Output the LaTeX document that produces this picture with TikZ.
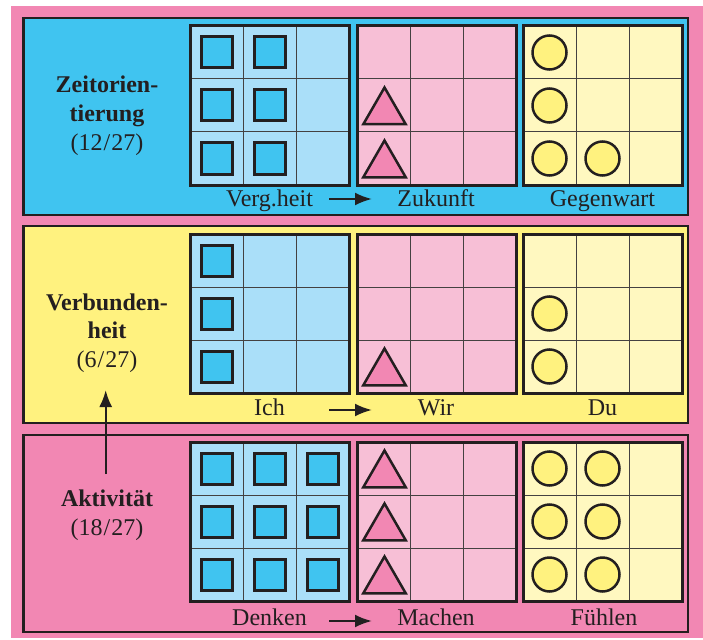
\documentclass[tikz,border=0pt]{standalone}
\usepackage{fontspec}
\setmainfont{Liberation Serif}
\usetikzlibrary{arrows.meta,shapes.geometric}

\definecolor{rosa}{HTML}{F287B3}
\definecolor{cyanblau}{HTML}{40C4F0}
\definecolor{hellblau}{HTML}{AADFF9}
\definecolor{hellrosa}{HTML}{F7BFD6}
\definecolor{gelb}{HTML}{FFF27F}
\definecolor{hellgelb}{HTML}{FFF8C0}
\definecolor{linie}{HTML}{231F20}

\tikzset{
  panel/.style={draw=linie, line width=2.5pt},
  feld/.style={draw=linie, line width=3pt, minimum size=159pt, inner sep=0pt, outer sep=0pt},
  gitter/.style={draw=linie!85, line width=1pt},
  quad/.style={draw=linie, fill=cyanblau, line width=3pt, minimum size=31pt, inner sep=0pt},
  kreis/.style={circle, draw=linie, fill=gelb, line width=2.5pt, minimum size=34pt, inner sep=0pt},
  dreieck/.style={regular polygon, regular polygon sides=3, draw=linie, fill=rosa, line width=2.5pt, minimum size=49pt, inner sep=0pt},
  beschr/.style={font=\fontsize{24}{26}\selectfont, text=linie, anchor=base},
  titel/.style={font=\fontsize{24}{28.5}\selectfont, text=linie, align=center, anchor=base},
  pfeil/.style={draw=linie, line width=2.4pt, -{Latex[length=17pt,width=13pt]}},
}

\begin{document}
\begin{tikzpicture}[x=1pt,y=-1pt]
  \useasboundingbox (0,0) rectangle (703,639);
  \fill[rosa] (11,6) rectangle (703,638);

  % drei Bereiche
  \draw[panel, fill=cyanblau] (23.5,18) rectangle (688,215);
  \draw[panel, fill=gelb] (23.5,226) rectangle (688,423);
  \draw[panel, fill=rosa] (23.5,435) rectangle (688,632);

  % Raster
  \foreach \gy/\z in {26/a,234/b,442/c} {
    \node[feld, fill=hellblau] (f1\z) at (269.5,\gy+79.5) {};
    \node[feld, fill=hellrosa] (f2\z) at (436.5,\gy+79.5) {};
    \node[feld, fill=hellgelb] (f3\z) at (602.5,\gy+79.5) {};
    \foreach \gx in {190,357,523} {
      \foreach \d in {53,106} {
        \draw[gitter] (\gx+\d,\gy+1.5) -- (\gx+\d,\gy+157.5);
        \draw[gitter] (\gx+1.5,\gy+\d) -- (\gx+157.5,\gy+\d);
      }
    }
    \draw[draw=linie, line width=3pt] (f1\z.north west) rectangle (f1\z.south east);
    \draw[draw=linie, line width=3pt] (f2\z.north west) rectangle (f2\z.south east);
    \draw[draw=linie, line width=3pt] (f3\z.north west) rectangle (f3\z.south east);
  }

  % Zeitorientierung
  \foreach \c in {0,1} \foreach \r in {0,1,2}
    \node[quad] (qa\c\r) at (216.5+53*\c,52.5+53*\r) {};
  \foreach \r in {1,2}
    \node[dreieck] (da\r) at (384.5,59+53*\r) {};
  \foreach \c/\r in {0/0,0/1,0/2,1/2}
    \node[kreis] (ka\c\r) at (549.5+53*\c,52.5+53*\r) {};

  % Verbundenheit
  \foreach \r in {0,1,2}
    \node[quad] (qb\r) at (216.5,260.5+53*\r) {};
  \node[dreieck] (db2) at (384.5,373) {};
  \foreach \r in {1,2}
    \node[kreis] (kb\r) at (549.5,260.5+53*\r) {};

  % Aktivitaet
  \foreach \c in {0,1,2} \foreach \r in {0,1,2}
    \node[quad] (qc\c\r) at (216.5+53*\c,468.5+53*\r) {};
  \foreach \r in {0,1,2}
    \node[dreieck] (dc\r) at (384.5,475+53*\r) {};
  \foreach \c in {0,1} \foreach \r in {0,1,2}
    \node[kreis] (kc\c\r) at (549.5+53*\c,468.5+53*\r) {};

  % Beschriftungen
  \node[beschr] (vergheit)  at (269.5,206) {Verg.heit};
  \node[beschr] (zukunft)   at (436,206) {Zukunft};
  \node[beschr] (gegenwart) at (602.5,206) {Gegenwart};
  \node[beschr] (ich)    at (269.5,415) {Ich};
  \node[beschr] (wir)    at (436,415) {Wir};
  \node[beschr] (du)     at (602.5,415) {Du};
  \node[beschr] (denken) at (269.5,625) {Denken};
  \node[beschr] (machen) at (436,625) {Machen};
  \node[beschr] (fuehlen) at (604,625) {Fühlen};

  \coordinate (pa1) at (329,199);  \coordinate (pa2) at (372,199);
  \coordinate (pb1) at (329,410);  \coordinate (pb2) at (372,410);
  \coordinate (pc1) at (329,621);  \coordinate (pc2) at (372,621);
  \draw[pfeil] (pa1) -- (pa2);
  \draw[pfeil] (pb1) -- (pb2);
  \draw[pfeil] (pc1) -- (pc2);

  \node[titel] (zeit) at (107,150) {\textbf{Zeitorien-}\\\textbf{tierung}\\(12\kern1pt/\kern1pt27)};
  \node[titel] (verb) at (107,367) {\textbf{Verbunden-}\\\textbf{heit}\\(6\kern1pt/\kern1pt27)};
  \node[titel] (akt)  at (107,535) {\textbf{Aktivität}\\(18\kern1pt/\kern1pt27)};
  \draw[pfeil] ([xshift=-1.3pt,yshift=61pt]akt.base) -- ([xshift=-1.3pt,yshift=-23pt]verb.base);
\end{tikzpicture}
\end{document}
